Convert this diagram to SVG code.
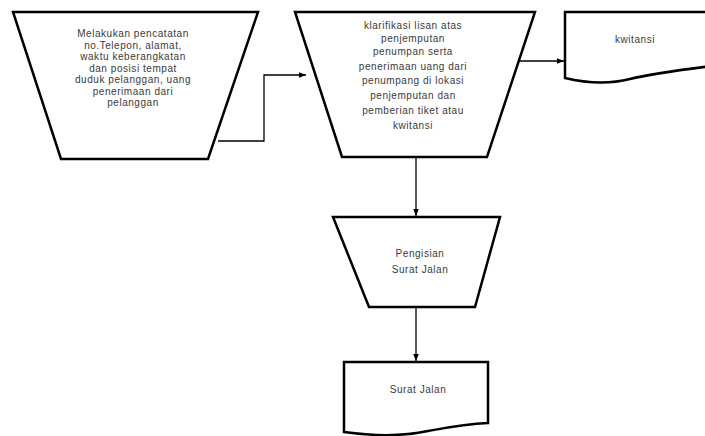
<svg xmlns="http://www.w3.org/2000/svg" width="705" height="436" viewBox="0 0 705 436">
<style>
.shape{fill:#fff;stroke:#000;stroke-width:2.5;stroke-linejoin:miter}
.conn{fill:none;stroke:#000;stroke-width:1.3}
text{font-family:"Liberation Sans",Arial,sans-serif;font-size:10px;letter-spacing:0.55px;fill:#3a3a3a;text-anchor:middle}
</style>
<defs>
<marker id="ah" viewBox="0 0 10 10" refX="10" refY="5" markerWidth="7" markerHeight="7" markerUnits="userSpaceOnUse" orient="auto">
<path d="M0,1 L10,5 L0,9 Z" fill="#000"/>
</marker>
</defs>
<rect width="705" height="436" fill="#fff"/>
<g id="connectors">
<path class="conn" d="M218,141 H264 V75 H306" marker-end="url(#ah)"/>
<path class="conn" d="M519,61 H564" marker-end="url(#ah)"/>
<path class="conn" d="M416,158 V216" marker-end="url(#ah)"/>
<path class="conn" d="M416,307 V361" marker-end="url(#ah)"/>
</g>
<g id="node1">
<path class="shape" d="M13,12 H258 L208,159 H61 Z"/>
<text x="133" y="37">Melakukan pencatatan</text>
<text x="133" y="48.5">no.Telepon, alamat,</text>
<text x="133" y="60">waktu keberangkatan</text>
<text x="133" y="71.5">dan posisi tempat</text>
<text x="133" y="83">duduk pelanggan, uang</text>
<text x="133" y="94.5">penerimaan dari</text>
<text x="133" y="106">pelanggan</text>
</g>
<g id="node2">
<path class="shape" d="M295,12 H535 L487,157 H342 Z"/>
<text x="413" y="29">klarifikasi lisan atas</text>
<text x="413" y="42">penjemputan</text>
<text x="413" y="55">penumpan serta</text>
<text x="413" y="70">penerimaan uang dari</text>
<text x="413" y="84">penumpang di lokasi</text>
<text x="413" y="99">penjemputan dan</text>
<text x="413" y="114">pemberian tiket atau</text>
<text x="413" y="129">kwitansi</text>
</g>
<g id="node3">
<path class="shape" d="M565,12 H712 V66 C680,70 650,74 630,79 C610,84 590,84 565,78 Z"/>
<text x="635" y="43">kwitansi</text>
</g>
<g id="node4">
<path class="shape" d="M333,217 H500 L475,307 H369 Z"/>
<text x="420" y="257">Pengisian</text>
<text x="420" y="273">Surat Jalan</text>
</g>
<g id="node5">
<path class="shape" d="M344,362 H488 V423 C465,424 450,427 428,431 C405,436 380,437 344,432 Z"/>
<text x="418" y="393">Surat Jalan</text>
</g>
</svg>
